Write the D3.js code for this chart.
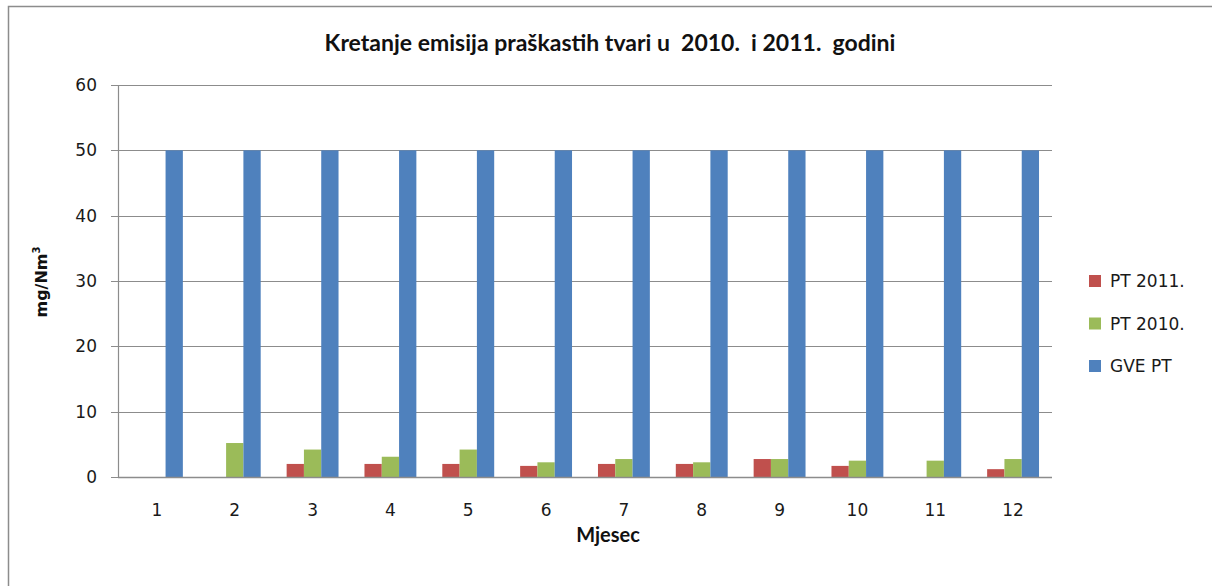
<!DOCTYPE html>
<meta charset="utf-8">
<script src="https://d3js.org/d3.v7.min.js"></script>
<style>
  body { margin: 0; background: #fff; }
</style>
<div id="chart"></div>
<script>

// Data
var months = ["1", "2", "3", "4", "5", "6", "7", "8", "9", "10", "11", "12"];
var seriesNames = ["PT 2011.", "PT 2010.", "GVE PT"];
var pt2011 = [null, null, 2.0, 2.0, 2.0, 1.7, 2.0, 2.0, 2.75, 1.7, null, 1.2];
var pt2010 = [null, 5.2, 4.2, 3.1, 4.2, 2.25, 2.75, 2.25, 2.75, 2.5, 2.5, 2.75];
var gvePt  = [50, 50, 50, 50, 50, 50, 50, 50, 50, 50, 50, 50];
var yTicks = [0, 10, 20, 30, 40, 50, 60];
var colors = ["#C0504D", "#9BBB59", "#4F81BD"];

var W = 1212, H = 586;
var margin = {top: 85, right: 160, bottom: 109, left: 118},
    width = W - margin.left - margin.right,
    height = H - margin.top - margin.bottom;

var svg = d3.select("#chart")
  .append("svg")
  .attr("width", W)
  .attr("height", H);

// chart area frame (only top and left edges visible)
svg.append("path")
  .attr("d", "M8.5,586 V6.5 H1212")
  .attr("fill", "none")
  .attr("stroke", "#8c8c8c")
  .attr("stroke-width", 1.5);

var g = svg.append("g")
  .attr("transform", "translate(" + margin.left + "," + margin.top + ")");

var x = d3.scaleBand().domain(months).range([0, width]).paddingInner(0).paddingOuter(0);
var barW = x.bandwidth() / 4.5;
var x1 = d3.scaleBand().domain(seriesNames).range([barW * 0.75, barW * 3.75]);
var y = d3.scaleLinear().domain([0, 60]).range([height, 0]);

// gridlines
g.append("g")
  .selectAll("line")
  .data(yTicks)
  .enter().append("line")
  .attr("x1", -7)
  .attr("x2", width)
  .attr("y1", function(d) { return Math.round(y(d)) + 0.5; })
  .attr("y2", function(d) { return Math.round(y(d)) + 0.5; })
  .attr("stroke", "#8c8c8c")
  .attr("stroke-width", 1.2);

// y axis line
g.append("line")
  .attr("x1", 0.5).attr("x2", 0.5)
  .attr("y1", 0).attr("y2", height)
  .attr("stroke", "#8c8c8c")
  .attr("stroke-width", 1.2);

// y tick labels
g.append("g")
  .selectAll("text")
  .data(yTicks)
  .enter().append("text")
  .attr("x", -21)
  .attr("y", function(d) { return y(d); })
  .attr("dy", "0.36em")
  .attr("text-anchor", "end")
  .style("font-family", "DejaVu Sans, Verdana, sans-serif")
  .style("font-size", "17px")
  .style("fill", "#1a1a1a")
  .text(function(d) { return d; });

// x tick labels
g.append("g")
  .selectAll("text")
  .data(months)
  .enter().append("text")
  .attr("x", function(d) { return x(d) + x.bandwidth() / 2; })
  .attr("y", height + 39)
  .attr("text-anchor", "middle")
  .style("font-family", "DejaVu Sans, Verdana, sans-serif")
  .style("font-size", "17px")
  .style("fill", "#1a1a1a")
  .text(function(d) { return d; });

// bars
var allSeries = [pt2011, pt2010, gvePt];
seriesNames.forEach(function(name, i) {
  var vals = allSeries[i];
  g.append("g")
    .selectAll("rect")
    .data(months.map(function(m, j) { return {m: m, v: vals[j]}; }).filter(function(d) { return d.v != null; }))
    .enter().append("rect")
    .attr("x", function(d) { return x(d.m) + x1(name); })
    .attr("y", function(d) { return y(d.v); })
    .attr("width", x1.bandwidth())
    .attr("height", function(d) { return height - y(d.v); })
    .attr("fill", colors[i]);
});

// redraw baseline over bars
g.append("line")
  .attr("x1", 0).attr("x2", width)
  .attr("y1", Math.round(y(0)) + 0.5).attr("y2", Math.round(y(0)) + 0.5)
  .attr("stroke", "#8c8c8c")
  .attr("stroke-width", 1.5);

// title
svg.append("text")
  .attr("x", 610)
  .attr("y", 51)
  .attr("text-anchor", "middle")
  .style("white-space", "pre")
  .style("font-family", "Lato, sans-serif")
  .style("font-weight", "bold")
  .style("font-size", "23px")
  .style("fill", "#111")
  .text("Kretanje emisija praškastih tvari u  2010.  i 2011.  godini");

// y axis title
var yt = svg.append("text")
  .attr("transform", "translate(47,282) rotate(-90)")
  .attr("text-anchor", "middle")
  .style("font-family", "DejaVu Sans, Verdana, sans-serif")
  .style("font-weight", "bold")
  .style("font-size", "16px")
  .style("fill", "#111");
yt.append("tspan").text("mg/Nm");
yt.append("tspan").attr("dy", -7).style("font-size", "10px").text("3");

// x axis title
svg.append("text")
  .attr("x", 608)
  .attr("y", 542)
  .attr("text-anchor", "middle")
  .style("font-family", "Lato, sans-serif")
  .style("font-weight", "bold")
  .style("font-size", "20px")
  .style("fill", "#111")
  .text("Mjesec");

// legend
var legend = svg.append("g")
  .selectAll("g")
  .data(seriesNames)
  .enter().append("g")
  .attr("transform", function(d, i) { return "translate(1089," + (281 + i * 42.5) + ")"; });

legend.append("rect")
  .attr("x", 0).attr("y", -6)
  .attr("width", 12).attr("height", 12)
  .attr("fill", function(d, i) { return colors[i]; });

legend.append("text")
  .attr("x", 21)
  .attr("dy", "0.36em")
  .style("font-family", "DejaVu Sans, Verdana, sans-serif")
  .style("font-size", "17px")
  .style("fill", "#1a1a1a")
  .text(function(d) { return d; });

</script>
